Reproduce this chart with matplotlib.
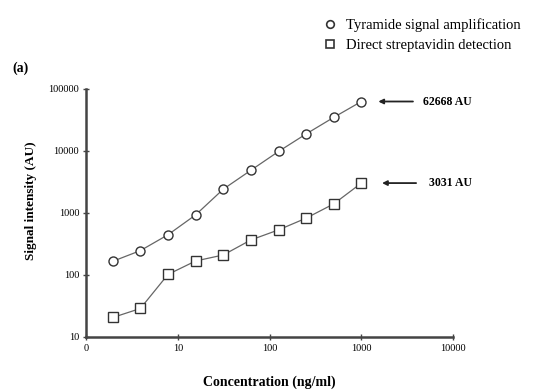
import matplotlib
matplotlib.use("Agg")
import matplotlib.pyplot as plt
from matplotlib.lines import Line2D

plt.rcParams['font.family'] = ['Liberation Serif', 'DejaVu Serif']

# concentrations (ng/ml), two-fold dilution series
conc = [1.95, 3.9, 7.8, 15.6, 31.25, 62.5, 125, 250, 500, 1000]
# signal intensity (AU)
tsa = [166, 247, 445, 930, 2420, 4880, 9800, 18800, 34800, 62668]
direct = [20.6, 28.8, 102, 168, 210, 367, 533, 824, 1400, 3031]

xticks = [1, 10, 100, 1000, 10000]
xtick_labels = ['0', '10', '100', '1000', '10000']
yticks = [10, 100, 1000, 10000, 100000]
ytick_labels = ['10', '100', '1000', '10000', '100000']

fig = plt.figure(figsize=(5.42, 3.9), dpi=100)
ax = fig.add_axes([0.159, 0.136, 0.677, 0.636])

line_col = '#666666'
edge_col = '#333333'
mk = dict(ms=6.5, mfc='white', mec=edge_col, mew=1.0)
ax.plot(conc, tsa, '-', color=line_col, lw=0.9, marker='o', **mk)
ax.plot(conc, direct, '-', color=line_col, lw=0.9, marker='s', **mk)

ax.set_xscale('log')
ax.set_yscale('log')
ax.set_xlim(1, 10000)
ax.set_ylim(10, 100000)
ax.set_xticks(xticks)
ax.set_xticklabels(xtick_labels)
ax.set_yticks(yticks)
ax.set_yticklabels(ytick_labels)
ax.minorticks_off()

for side in ['top', 'right']:
    ax.spines[side].set_visible(False)
for side in ['left', 'bottom']:
    ax.spines[side].set_linewidth(1.8)
    ax.spines[side].set_color('#444444')
ax.tick_params(direction='inout', length=4, width=1, color='#444444',
               labelsize=7.5, pad=3)

ax.set_xlabel('Concentration (ng/ml)', fontsize=10, fontweight='bold', labelpad=16)
ax.set_ylabel('Signal intensity (AU)', fontsize=9.5, fontweight='bold')
ax.yaxis.set_label_coords(-0.133, 0.55)

# arrows marking the end-point values: (head x, tail x, text x)
arrow_pos = [(1530, 3650, 4650), (1680, 3950, 5400)]
for yv, (hx, tx, lx) in zip([tsa[-1], direct[-1]], arrow_pos):
    ax.annotate('', xy=(hx, yv), xytext=(tx, yv), annotation_clip=False,
                arrowprops=dict(arrowstyle='-|>', color='#222222', lw=1.3,
                                mutation_scale=7, shrinkA=0, shrinkB=0))
    ax.text(lx, yv, '%d AU' % yv, fontsize=8.5, fontweight='bold',
            va='center', ha='left', clip_on=False)

fig.text(0.022, 0.815, '(a)', fontsize=10, fontweight='bold')

handles = [Line2D([], [], ls='none', marker='o', ms=5.5, mfc='white',
                  mec=edge_col, mew=1.2),
           Line2D([], [], ls='none', marker='s', ms=5.5, mfc='white',
                  mec=edge_col, mew=1.2)]
fig.legend(handles, ['Tyramide signal amplification',
                     'Direct streptavidin detection'],
           loc='upper left', bbox_to_anchor=(0.585, 0.968), frameon=False,
           fontsize=10.5, handlelength=1.0, handletextpad=0.6,
           labelspacing=0.45, borderaxespad=0)

fig.savefig('out.png', dpi=100, facecolor='white')
